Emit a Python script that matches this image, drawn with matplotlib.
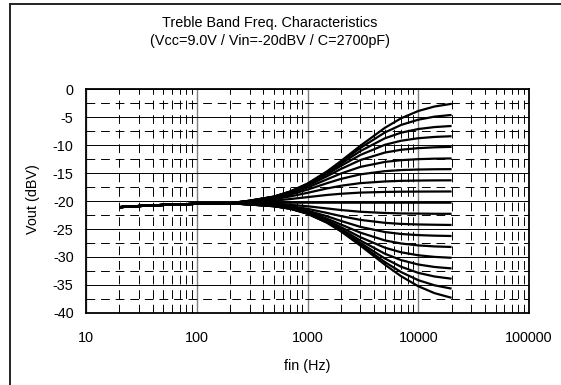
import matplotlib.pyplot as plt
from matplotlib.lines import Line2D
from matplotlib.ticker import MultipleLocator, LogLocator, NullFormatter, FixedLocator

plt.rcParams['font.family'] = ['Liberation Sans', 'DejaVu Sans']
plt.rcParams['axes.unicode_minus'] = False

# --- data: output level vs. input frequency for each treble step ---
freq_lo = [20, 30, 50, 100, 200]
vout_lo = [-21.1, -20.9, -20.7, -20.5, -20.4]

freq_hi = [300, 500, 700, 1000, 1500, 2000, 3000, 5000, 7000, 10000, 14000, 20000]
vout_flat = [-20.4, -20.35, -20.3, -20.3, -20.3, -20.3, -20.3, -20.3, -20.3, -20.3, -20.3, -20.3]

# boost steps (dB above the flat response)
boost_db = [
    [0.45, 1.15, 2.02, 3.41, 5.59, 7.42, 10.16, 13.37, 15.07, 16.37, 17.17, 17.66],
    [0.45, 1.14, 1.99, 3.36, 5.48, 7.23, 9.76, 12.54, 13.88, 14.82, 15.36, 15.67],
    [0.44, 1.11, 1.95, 3.28, 5.31, 6.94, 9.21, 11.50, 12.50, 13.15, 13.50, 13.70],
    [0.43, 1.09, 1.89, 3.17, 5.07, 6.56, 8.52, 10.34, 11.06, 11.51, 11.74, 11.87],
    [0.41, 1.04, 1.80, 2.99, 4.72, 6.01, 7.61, 8.95, 9.45, 9.74, 9.89, 9.97],
    [0.38, 0.96, 1.65, 2.71, 4.17, 5.20, 6.39, 7.28, 7.59, 7.77, 7.86, 7.90],
    [0.34, 0.85, 1.44, 2.33, 3.48, 4.24, 5.06, 5.63, 5.82, 5.92, 5.97, 5.99],
    [0.27, 0.67, 1.12, 1.76, 2.54, 3.02, 3.49, 3.79, 3.90, 3.95, 3.98, 3.99],
    [0.16, 0.40, 0.65, 0.99, 1.38, 1.59, 1.80, 1.92, 1.96, 1.98, 1.99, 2.00],
]

# cut steps (dB below the flat response)
cut_db = [
    [0.08, 0.21, 0.38, 0.64, 1.03, 1.31, 1.62, 1.84, 1.92, 1.95, 1.98, 1.99],
    [0.13, 0.35, 0.63, 1.10, 1.83, 2.39, 3.07, 3.60, 3.79, 3.89, 3.94, 3.98],
    [0.17, 0.44, 0.80, 1.42, 2.42, 3.25, 4.32, 5.24, 5.59, 5.79, 5.89, 5.95],
    [0.19, 0.50, 0.91, 1.63, 2.85, 3.89, 5.35, 6.74, 7.29, 7.63, 7.81, 7.91],
    [0.20, 0.54, 0.98, 1.77, 3.13, 4.35, 6.16, 8.04, 8.86, 9.39, 9.68, 9.84],
    [0.21, 0.56, 1.03, 1.86, 3.33, 4.67, 6.75, 9.12, 10.25, 11.04, 11.48, 11.74],
    [0.22, 0.57, 1.06, 1.92, 3.45, 4.88, 7.18, 9.97, 11.44, 12.53, 13.18, 13.58],
    [0.22, 0.58, 1.07, 1.95, 3.53, 5.02, 7.47, 10.61, 12.39, 13.84, 14.75, 15.35],
    [0.22, 0.59, 1.09, 1.98, 3.59, 5.11, 7.66, 11.07, 13.13, 14.92, 16.15, 16.99],
]

xtick_vals = [10, 100, 1000, 10000, 100000]
xtick_labels = ['10', '100', '1000', '10000', '100000']
ytick_vals = [0, -5, -10, -15, -20, -25, -30, -35, -40]

W, H = 561, 385
FS = 10.4
fig = plt.figure(figsize=(W / 100, H / 100), dpi=100)
ax = fig.add_axes([86 / W, 1 - 313 / H, (529 - 86) / W, (313 - 89) / H])

freqs = freq_lo + freq_hi
curves = [vout_lo + vout_flat]
for g in boost_db:
    curves.append(vout_lo + [v + d for v, d in zip(vout_flat, g)])
for g in cut_db:
    curves.append(vout_lo + [v - d for v, d in zip(vout_flat, g)])

for c in curves:
    ax.plot(freqs, c, color='black', lw=1.6, zorder=3, solid_capstyle='butt')

ax.set_xscale('log')
ax.set_xlim(10, 100000)
ax.set_ylim(-40, 0)

ax.xaxis.set_major_locator(FixedLocator(xtick_vals))
ax.set_xticklabels(xtick_labels)
ax.xaxis.set_minor_locator(LogLocator(base=10, subs=range(2, 10), numticks=20))
ax.xaxis.set_minor_formatter(NullFormatter())
ax.set_yticks(ytick_vals)
ax.yaxis.set_minor_locator(MultipleLocator(2.5))

ax.tick_params(which='both', length=0, labelsize=FS)
ax.tick_params(axis='y', pad=9)
ax.tick_params(axis='x', pad=13)

# grid: solid majors, dashed minors
ax.grid(True, axis='y', which='major', color='black', lw=0.7, ls='-')
ax.grid(True, axis='x', which='major', color='#808080', lw=1.0, ls='-')
ax.grid(True, which='minor', color='black', lw=0.7, ls=(0, (9, 6)))
ax.set_axisbelow(True)

for s in ax.spines.values():
    s.set_linewidth(1.3)
    s.set_color('black')

fig.text(269.5 / W, 1 - 23 / H, 'Treble Band Freq. Characteristics', ha='center', va='center', fontsize=FS)
fig.text(269.5 / W, 1 - 41 / H, '(Vcc=9.0V / Vin=-20dBV / C=2700pF)', ha='center', va='center', fontsize=FS)
fig.text(33 / W, 1 - 199 / H, 'Vout (dBV)', rotation=90, ha='center', va='center', fontsize=FS)
fig.text(307 / W, 1 - 366 / H, 'fin (Hz)', ha='center', va='center', fontsize=FS)

# outer chart frame (top and left edges)
fig.add_artist(Line2D([10 / W, 1], [1 - 4 / H, 1 - 4 / H], color='#222222', lw=1.4))
fig.add_artist(Line2D([10 / W, 10 / W], [0, 1 - 4 / H], color='#222222', lw=1.4))

fig.savefig('out.png', dpi=100)
